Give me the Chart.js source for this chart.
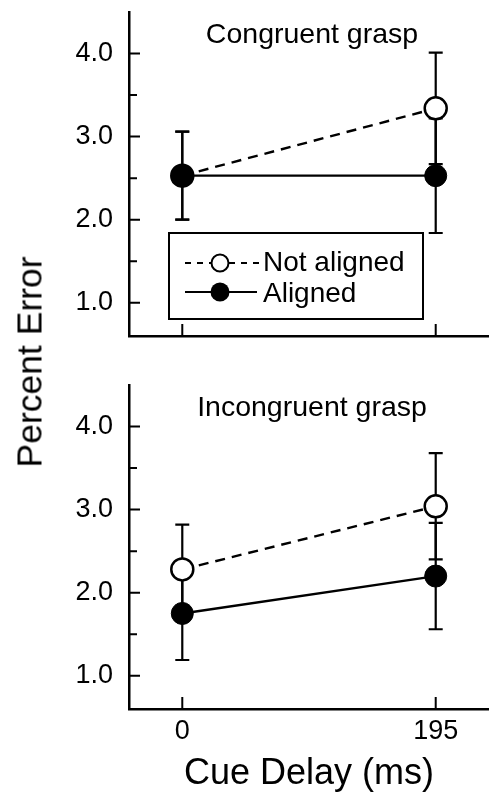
<!DOCTYPE html>
<html>
<head>
<meta charset="utf-8">
<script src="https://cdn.jsdelivr.net/npm/chart.js@4.4.0/dist/chart.umd.min.js"></script>
<style>
html, body { margin: 0; padding: 0; background: #fff; }
#wrap { position: relative; width: 489px; height: 798px; overflow: hidden; }
#top { position: absolute; left: 0; top: 0; }
#bot { position: absolute; left: 0; top: 360px; }
#ytitle {
  position: absolute; left: 30px; top: 362px;
  transform: translate(-50%, -50%) rotate(-90deg);
  font: 35.5px 'Liberation Sans', Arial, sans-serif; color: #000; white-space: nowrap;
}
</style>
</head>
<body>
<div id="wrap">
  <canvas id="top" width="489" height="360"></canvas>
  <canvas id="bot" width="489" height="438"></canvas>
  <div id="ytitle">Percent Error</div>
</div>
<script>
// ---- data ----
const delays = [0, 195];
const xTicks = [0, 195];
const yTicks = [1.0, 1.5, 2.0, 2.5, 3.0, 3.5, 4.0];

const congNotAligned    = [2.53, 3.34];
const congNotAlignedErr = [0.53, 0.67];
const congAligned       = [2.53, 2.53];
const congAlignedErr    = [0.53, 0.69];

const incNotAligned     = [2.28, 3.04];
const incNotAlignedErr  = [0.54, 0.64];
const incAligned        = [1.75, 2.20];
const incAlignedErr     = [0.56, 0.64];

const FONT = "'Liberation Sans', Arial, Helvetica, sans-serif";

// inward tick marks (major longer than minor)
const tickMarks = {
  id: 'tickMarks',
  afterDraw(chart) {
    const {ctx, chartArea: a, scales: {x, y}} = chart;
    ctx.save();
    ctx.strokeStyle = '#000';
    ctx.lineWidth = 2;
    ctx.beginPath();
    y.ticks.forEach(t => {
      const py = y.getPixelForValue(t.value);
      const len = Number.isInteger(t.value) ? 11 : 8;
      ctx.moveTo(a.left, py);
      ctx.lineTo(a.left + len, py);
    });
    x.ticks.forEach(t => {
      const px = x.getPixelForValue(t.value);
      ctx.moveTo(px, a.bottom);
      ctx.lineTo(px, a.bottom - 12);
    });
    ctx.stroke();
    ctx.restore();
  }
};

// error bars, drawn under the markers
const errorBars = {
  id: 'errorBars',
  beforeDatasetsDraw(chart) {
    const {ctx, scales: {x, y}} = chart;
    ctx.save();
    ctx.strokeStyle = '#000';
    ctx.lineWidth = 2.2;
    chart.data.datasets.forEach(ds => {
      ds.data.forEach((p, j) => {
        const e = ds.err[j];
        const px = x.getPixelForValue(p.x);
        const hi = y.getPixelForValue(p.y + e);
        const lo = y.getPixelForValue(p.y - e);
        ctx.beginPath();
        ctx.moveTo(px, hi); ctx.lineTo(px, lo);
        ctx.moveTo(px - 7, hi); ctx.lineTo(px + 7, hi);
        ctx.moveTo(px - 7, lo); ctx.lineTo(px + 7, lo);
        ctx.stroke();
      });
    });
    ctx.restore();
  }
};

// panel caption inside plot area
const panelTitle = {
  id: 'panelTitle',
  afterDraw(chart, args, opts) {
    const {ctx, chartArea: a} = chart;
    ctx.save();
    ctx.font = '28.5px ' + FONT;
    ctx.fillStyle = '#000';
    ctx.textAlign = 'center';
    ctx.textBaseline = 'alphabetic';
    ctx.fillText(opts.text, (a.left + a.right) / 2 + 3, a.top + 31);
    ctx.restore();
  }
};

// boxed legend (top panel only)
const boxLegend = {
  id: 'boxLegend',
  afterDraw(chart, args, opts) {
    if (!opts.show) return;
    const ctx = chart.ctx;
    ctx.save();
    ctx.fillStyle = '#fff';
    ctx.fillRect(169, 233, 254, 86);
    ctx.strokeStyle = '#000';
    ctx.lineWidth = 2;
    ctx.strokeRect(169, 233, 254, 86);

    // Not aligned row
    ctx.setLineDash([6, 6]);
    ctx.beginPath();
    ctx.moveTo(185, 263); ctx.lineTo(211, 263);
    ctx.moveTo(229, 263); ctx.lineTo(262, 263);
    ctx.stroke();
    ctx.setLineDash([]);
    ctx.beginPath();
    ctx.arc(220, 263, 8.5, 0, Math.PI * 2);
    ctx.fillStyle = '#fff'; ctx.fill();
    ctx.lineWidth = 2; ctx.stroke();

    // Aligned row
    ctx.beginPath();
    ctx.moveTo(185, 292); ctx.lineTo(257, 292);
    ctx.stroke();
    ctx.beginPath();
    ctx.arc(220, 292, 9.5, 0, Math.PI * 2);
    ctx.fillStyle = '#000'; ctx.fill();

    ctx.font = '28px ' + FONT;
    ctx.fillStyle = '#000';
    ctx.textAlign = 'left';
    ctx.textBaseline = 'alphabetic';
    ctx.fillText(opts.labels[0], 263, 271);
    ctx.fillText(opts.labels[1], 263, 302);
    ctx.restore();
  }
};

function pts(vals) {
  return delays.map((d, i) => ({x: d, y: vals[i]}));
}

function makePanel(id, caption, notA, notAErr, ali, aliErr, isBottom) {
  return new Chart(document.getElementById(id), {
    type: 'line',
    data: {
      datasets: [
        // index 0 is drawn last -> filled markers sit on top
        { label: 'Aligned', data: pts(ali), err: aliErr,
          borderColor: '#000', borderWidth: 2.4, tension: 0,
          pointRadius: 11, pointBackgroundColor: '#000', pointBorderColor: '#000', pointBorderWidth: 1 },
        { label: 'Not aligned', data: pts(notA), err: notAErr,
          borderColor: '#000', borderWidth: 2.4, borderDash: [10, 7], tension: 0,
          pointRadius: 11, pointBackgroundColor: '#fff', pointBorderColor: '#000', pointBorderWidth: 2.5 }
      ]
    },
    options: {
      responsive: false,
      animation: false,
      events: [],
      layout: { autoPadding: false, padding: { top: isBottom ? 25 : 12, left: 0, right: 0, bottom: 0 } },
      plugins: {
        legend: { display: false },
        tooltip: { enabled: false },
        panelTitle: { text: caption },
        boxLegend: { show: !isBottom, labels: ['Not aligned', 'Aligned'] }
      },
      scales: {
        x: {
          type: 'linear', min: -41, max: 236,
          afterBuildTicks: s => { s.ticks = xTicks.map(v => ({value: v})); },
          afterFit: s => { s.height = isBottom ? 89 : 24; s.paddingLeft = 0; s.paddingRight = 0; },
          grid: { display: false, drawTicks: false },
          border: { display: true, color: '#000', width: 2.5 },
          ticks: { display: isBottom, autoSkip: false, maxRotation: 0, padding: 6,
                   color: '#000', font: { family: FONT, size: 27 },
                   callback: v => String(v) },
          title: { display: isBottom, text: 'Cue Delay (ms)', color: '#000',
                   font: { family: FONT, size: 36 }, padding: { top: 0, bottom: 2 } }
        },
        y: {
          min: 0.6, max: 4.5,
          afterBuildTicks: s => { s.ticks = yTicks.map(v => ({value: v})); },
          afterFit: s => { s.width = 129; s.paddingTop = 0; s.paddingBottom = 0; },
          grid: { display: false, drawTicks: false },
          border: { display: true, color: '#000', width: 2.5 },
          ticks: { autoSkip: false, padding: 16, color: '#000',
                   font: { family: FONT, size: 27 },
                   callback: v => Number.isInteger(v) ? v.toFixed(1) : '' }
        }
      }
    },
    plugins: [errorBars, tickMarks, panelTitle, boxLegend]
  });
}

makePanel('top', 'Congruent grasp', congNotAligned, congNotAlignedErr, congAligned, congAlignedErr, false);
makePanel('bot', 'Incongruent grasp', incNotAligned, incNotAlignedErr, incAligned, incAlignedErr, true);
</script>
</body>
</html>
